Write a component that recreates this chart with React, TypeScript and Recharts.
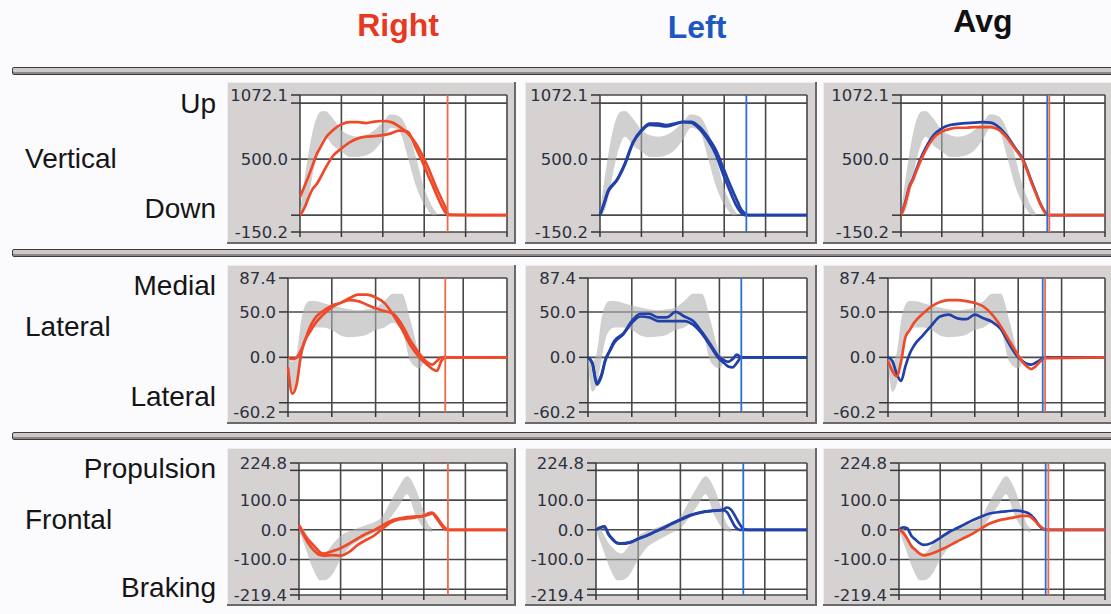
import {
  Area,
  CartesianGrid,
  ComposedChart,
  Line,
  ReferenceLine,
  XAxis,
  YAxis,
} from 'recharts'

// stance time in % (sampled finer where the curves bend)
const X = [0, 2, 4, 6, 8, 10, 12, 16, 20, 24, 28, 32, 36, 40, 44, 48, 52, 56, 60, 62, 64, 66, 68, 70, 72, 100]
const X_TICKS = [0, 20, 40, 60, 80, 100]

// Vertical
const vertBandLo = [0, 30, 150, 350, 520, 640, 700, 620, 570, 520, 520, 535, 580, 670, 780, 750, 520, 260, 90, 40, 0, 0, null, null, null, null]
const vertBandHi = [30, 300, 540, 740, 870, 925, 930, 860, 760, 715, 700, 715, 760, 830, 900, 880, 760, 520, 240, 150, 70, 20, null, null, null, null]
const rightVertA = [163, 250, 340, 440, 540, 610, 680, 760, 810, 830, 830, 822, 835, 840, 830, 790, 730, 640, 500, 420, 330, 240, 160, 80, 5, 0]
const rightVertB = [0, 60, 150, 230, 275, 340, 410, 530, 595, 650, 685, 700, 705, 714, 730, 755, 745, 600, 440, 350, 270, 180, 100, 30, 0, 0]
const leftVertA = [0, 110, 223, 270, 312, 380, 461, 655, 758, 818, 818, 804, 818, 833, 833, 789, 699, 580, 401, 310, 223, 140, 58, 15, 0, 0]
const leftVertB = [0, 100, 210, 262, 305, 370, 450, 645, 750, 805, 800, 792, 810, 830, 825, 770, 675, 540, 340, 250, 160, 80, 25, 0, 0, 0]
const avgVertRight = [0, 100, 240, 320, 415, 500, 575, 690, 745, 770, 780, 780, 785, 785, 785, 760, 690, 590, 480, 390, 290, 200, 110, 40, 0, 0]
const avgVertLeft = [0, 110, 250, 330, 430, 520, 595, 714, 775, 805, 815, 822, 825, 830, 825, 785, 705, 600, 490, 400, 300, 210, 115, 45, 0, 0]

// Lateral
const latBandLo = [-8, -38, -30, -5, 20, 30, 33, 33, 30, 24, 22, 23, 25, 30, 33, 38, 30, -5, -12, -5, null, null, null, null, null, null]
const latBandHi = [0, -5, 5, 40, 58, 62, 62, 60, 57, 55, 53, 52, 53, 55, 62, 70, 70, 40, 5, 0, null, null, null, null, null, null]
const rightLatA = [-11, -40, -29, 4, 20, 33, 42, 51, 57, 60, 65, 69, 69, 66, 60, 47, 31, 13, 0, -5, -9, -13, -15, -4, 0, 0]
const rightLatB = [0, -2, 0, 8, 20, 28, 36, 47, 55, 60, 63, 62, 58, 54, 51, 48, 36, 18, 4, -2, -6, -8, -4, 0, 0, 0]
const leftLatA = [0, -6, -28, -20, -2, 8, 18, 26, 40, 48, 48, 44, 44, 50, 45, 40, 28, 14, 0, -3, -5, -2, 3, 0, 0, 0]
const leftLatB = [0, -7, -30, -22, -3, 7, 16, 25, 38, 45, 44, 40, 40, 40, 40, 36, 26, 12, -2, -6, -10, -11, -6, 0, 0, 0]
const avgLatRight = [-4, -15, -21, -5, 22, 30, 38, 48, 56, 61, 63, 63, 62, 60, 56, 47, 34, 18, 2, -5, -10, -13, -10, -5, -1, 0]
const avgLatLeft = [0, -4, -18, -26, -10, 4, 13, 24, 35, 45, 47, 43, 42, 47, 43, 39, 31, 14, 0, -4, -7, -8, -6, -3, 0, 0]

// Frontal
const frontBandLo = [-5, -40, -80, -120, -150, -170, -170, -150, -100, -60, -40, -25, -10, 5, 40, 80, 120, 50, 5, -5, -8, null, null, null, null, null]
const frontBandHi = [15, 5, -20, -45, -60, -75, -80, -50, -20, -5, 5, 15, 25, 45, 95, 145, 180, 140, 60, 20, 5, null, null, null, null, null]
const rightFrontA = [15, -10, -30, -45, -60, -75, -80, -72, -62, -47, -30, -14, -2, 14, 30, 38, 43, 45, 46, 50, 55, 40, 20, 3, 0, 0]
const rightFrontB = [15, -15, -40, -60, -75, -85, -87, -85, -87, -75, -52, -35, -20, 3, 24, 35, 38, 42, 47, 55, 58, 45, 25, 8, 0, 0]
const leftFrontA = [0, 8, 12, -15, -32, -44, -46, -42, -30, -19, -6, 7, 22, 35, 48, 56, 62, 65, 67, 75, 68, 45, 20, 3, 0, 0]
const leftFrontB = [0, 7, 10, -17, -34, -45, -47, -43, -31, -20, -7, 6, 20, 33, 46, 55, 61, 64, 66, 60, 35, 10, 0, 0, 0, 0]
const avgFrontRight = [0, -10, -30, -55, -68, -80, -86, -80, -68, -55, -40, -26, -12, 5, 21, 31, 37, 42, 47, 47, 43, 30, 15, 4, 0, 0]
const avgFrontLeft = [0, 8, 5, -20, -33, -45, -51, -44, -27, -9, 5, 19, 33, 45, 55, 59, 62, 65, 62, 58, 50, 35, 15, 3, 0, 0]

// toe-off markers: [right panel, left panel, avg left, avg right]
const vertMarkers = [71.3, 70.7, 71.7, 72.7]
const latMarkers = [71.8, 70, 71.3, 72.4]
const frontMarkers = [71.6, 69.8, 71.2, 72.5]

const vertTicks = [-150.2, 0, 500, 1000, 1072.1]
const vertLabeled = [-150.2, 500, 1072.1]
const latTicks = [-60.2, -50, 0, 50, 87.4]
const latLabeled = [-60.2, 0, 50, 87.4]
const frontTicks = [-219.4, -200, -100, 0, 100, 200, 224.8]
const frontLabeled = [-219.4, -100, 0, 100, 224.8]

const RED = '#ee4a2a'
const BLUE = '#2140a8'
const RED_MARK = '#f26848'
const BLUE_MARK = '#2b6fd4'
const FRAME_BG = '#d5d2d1'
const GRID = '#484848'

const COL_FRAME_LEFT = [227, 525, 823]
const COL_FRAME_RIGHT = [516, 817, 1116]
const COL_PLOT_RIGHT = [507, 807, 1105]

type Num = number | null

function buildRows(
  lo: Num[],
  hi: Num[],
  rA: number[],
  rB: number[],
  lA: number[],
  lB: number[],
  aR: number[],
  aL: number[]
) {
  return X.map((x, i) => ({
    x,
    band: lo[i] === null ? null : [lo[i], hi[i]],
    rA: rA[i],
    rB: rB[i],
    lA: lA[i],
    lB: lB[i],
    aR: aR[i],
    aL: aL[i],
  }))
}

const rows = [
  {
    data: buildRows(vertBandLo, vertBandHi, rightVertA, rightVertB, leftVertA, leftVertB, avgVertRight, avgVertLeft),
    domain: [-150.2, 1072.1],
    ticks: vertTicks,
    labeled: vertLabeled,
    markers: vertMarkers,
    frameTop: 82,
    frameBottom: 244,
    plotTop: 95,
    plotBottom: 232,
    plotLeft: [300, 600, 901],
  },
  {
    data: buildRows(latBandLo, latBandHi, rightLatA, rightLatB, leftLatA, leftLatB, avgLatRight, avgLatLeft),
    domain: [-60.2, 87.4],
    ticks: latTicks,
    labeled: latLabeled,
    markers: latMarkers,
    frameTop: 265,
    frameBottom: 424,
    plotTop: 278,
    plotBottom: 412,
    plotLeft: [288, 588, 888],
  },
  {
    data: buildRows(frontBandLo, frontBandHi, rightFrontA, rightFrontB, leftFrontA, leftFrontB, avgFrontRight, avgFrontLeft),
    domain: [-219.4, 224.8],
    ticks: frontTicks,
    labeled: frontLabeled,
    markers: frontMarkers,
    frameTop: 448,
    frameBottom: 606,
    plotTop: 463,
    plotBottom: 595,
    plotLeft: [299, 596, 899],
  },
]

type Row = (typeof rows)[number]

function Panel({ row, col }: { row: Row; col: number }) {
  const left = COL_FRAME_LEFT[col]
  const width = COL_FRAME_RIGHT[col] - left
  const height = row.frameBottom - row.frameTop
  const line = (key: string, color: string) => (
    <Line
      key={key}
      dataKey={key}
      type="monotone"
      stroke={color}
      strokeWidth={2.7}
      dot={false}
      isAnimationActive={false}
    />
  )
  return (
    <div
      style={{
        position: 'absolute',
        left,
        top: row.frameTop,
        width,
        height,
        background: FRAME_BG,
        boxShadow: 'inset -2px -2px 0 #6a6a6a, inset 1px 1px 0 #eeeeee',
      }}
    >
      <ComposedChart
        width={width}
        height={height}
        data={row.data}
        margin={{
          top: row.plotTop - row.frameTop,
          right: COL_FRAME_RIGHT[col] - COL_PLOT_RIGHT[col],
          bottom: 0,
          left: 0,
        }}
      >
        <CartesianGrid stroke={GRID} strokeWidth={1.6} fill="#ffffff" fillOpacity={1} />
        <XAxis
          type="number"
          dataKey="x"
          domain={[0, 100]}
          ticks={X_TICKS}
          interval={0}
          tickFormatter={() => ''}
          tickSize={5}
          axisLine={false}
          tickLine={{ stroke: '#333', strokeWidth: 1.5 }}
          height={row.frameBottom - row.plotBottom}
        />
        <YAxis
          type="number"
          domain={row.domain}
          ticks={row.ticks}
          interval={0}
          allowDataOverflow
          tickFormatter={(v: number) => (row.labeled.includes(v) ? v.toFixed(1) : '')}
          width={row.plotLeft[col] - left}
          tickSize={9}
          tickMargin={3}
          axisLine={false}
          tickLine={{ stroke: '#333', strokeWidth: 1.5 }}
          tick={{ fill: '#2c3140', fontSize: 16.5, fontFamily: 'DejaVu Sans' }}
        />
        <Area
          dataKey="band"
          type="monotone"
          fill="#b0b0b0"
          fillOpacity={0.6}
          stroke="none"
          isAnimationActive={false}
        />
        {col === 0 && [line('rB', RED), line('rA', RED)]}
        {col === 1 && [line('lB', BLUE), line('lA', BLUE)]}
        {col === 2 && [line('aL', BLUE), line('aR', RED)]}
        {col === 0 && <ReferenceLine x={row.markers[0]} stroke={RED_MARK} strokeWidth={1.8} />}
        {col === 1 && <ReferenceLine x={row.markers[1]} stroke={BLUE_MARK} strokeWidth={1.8} />}
        {col === 2 && <ReferenceLine x={row.markers[2]} stroke={BLUE_MARK} strokeWidth={1.8} />}
        {col === 2 && <ReferenceLine x={row.markers[3]} stroke={RED_MARK} strokeWidth={1.8} />}
      </ComposedChart>
    </div>
  )
}

const sideLabels = [
  { text: 'Up', y: 104, align: 'right' },
  { text: 'Vertical', y: 159, align: 'left' },
  { text: 'Down', y: 209, align: 'right' },
  { text: 'Medial', y: 286, align: 'right' },
  { text: 'Lateral', y: 327, align: 'left' },
  { text: 'Lateral', y: 397, align: 'right' },
  { text: 'Propulsion', y: 469, align: 'right' },
  { text: 'Frontal', y: 520, align: 'left' },
  { text: 'Braking', y: 588, align: 'right' },
]

const headers = [
  { text: 'Right', x: 398, y: 25, color: '#e8391f' },
  { text: 'Left', x: 697, y: 27, color: '#1c58bd' },
  { text: 'Avg', x: 983, y: 21, color: '#111111' },
]

const separators = [67, 249, 432]

export default function App() {
  return (
    <div
      style={{
        position: 'absolute',
        left: 0,
        top: 0,
        width: 1111,
        height: 614,
        overflow: 'hidden',
        background: '#fbfbfd',
        fontFamily: '"Liberation Sans", Arial, sans-serif',
      }}
    >
      {headers.map((h) => (
        <div
          key={h.text}
          style={{
            position: 'absolute',
            left: h.x - 80,
            width: 160,
            top: h.y - 16,
            textAlign: 'center',
            fontSize: 32,
            lineHeight: '32px',
            fontWeight: 'bold',
            color: h.color,
          }}
        >
          {h.text}
        </div>
      ))}

      {separators.map((y) => (
        <div
          key={y}
          style={{
            position: 'absolute',
            left: 12,
            top: y,
            width: 1110,
            height: 6,
            background: '#cdc9c8',
            border: '1px solid #3c3c3c',
            borderRadius: 2,
            boxShadow: 'inset 0 -2px 0 #8a8685',
          }}
        />
      ))}

      {sideLabels.map((l, i) => (
        <div
          key={i}
          style={{
            position: 'absolute',
            left: l.align === 'left' ? 25 : 0,
            width: l.align === 'left' ? 200 : 216,
            top: l.y - 14,
            textAlign: l.align as 'left' | 'right',
            fontSize: 28,
            lineHeight: '28px',
            color: '#151515',
          }}
        >
          {l.text}
        </div>
      ))}

      {rows.map((row, r) =>
        [0, 1, 2].map((c) => <Panel key={`${r}-${c}`} row={row} col={c} />)
      )}
    </div>
  )
}
